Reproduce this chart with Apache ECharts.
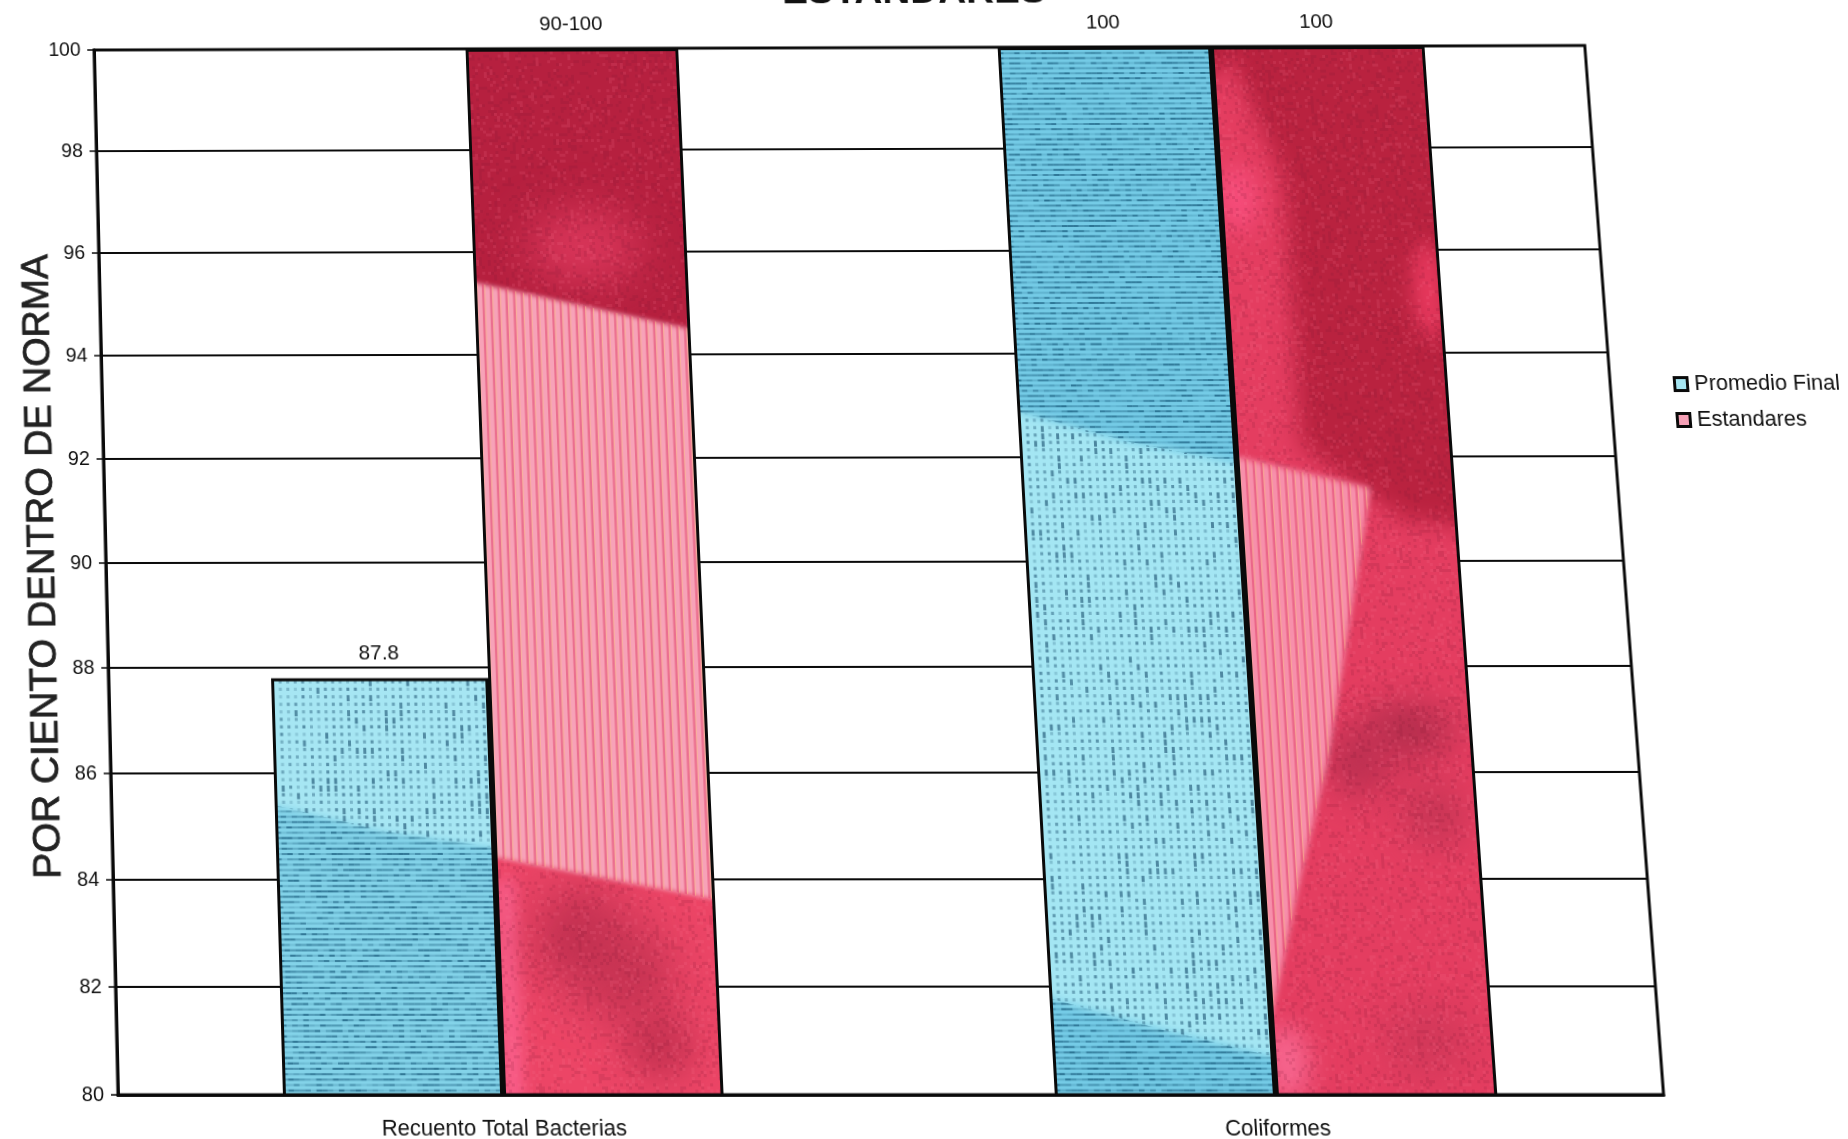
<!DOCTYPE html>
<html>
<head>
<meta charset="utf-8">
<title>Estandares</title>
<script src="https://cdn.jsdelivr.net/npm/echarts@6/dist/echarts.min.js"></script>
<style>
  html, body { margin: 0; padding: 0; width: 1848px; height: 1139px; overflow: hidden; background: #fff; }
  #chart { position: absolute; left: 0; top: 0; width: 1960px; height: 1180px; transform-origin: 0 0; }
</style>
</head>
<body>
<div id="chart"></div>
<script>
const categories = ['Recuento Total Bacterias', 'Coliformes'];
const promedioFinal = [87.8, 100];
const estandares = [100, 100];
const promedioLabels = ['87.8', '100'];
const estandaresLabels = ['90-100', '100'];
const seriesNames = ['Promedio Final', 'Estandares'];
const axisTitle = 'POR CIENTO DENTRO DE NORMA';
const chartTitle = 'ESTANDARES';

const FONT = '"Liberation Sans", Arial, sans-serif';
const GRID = { left: 100, top: 70, width: 1540, height: 1040 };

// The sheet sits slightly askew: map the plot rectangle onto its four page corners.
function sheetMatrix(g, tl, tr, br, bl) {
  const dx1 = tr[0] - br[0], dx2 = bl[0] - br[0], sx = tl[0] - tr[0] + br[0] - bl[0];
  const dy1 = tr[1] - br[1], dy2 = bl[1] - br[1], sy = tl[1] - tr[1] + br[1] - bl[1];
  const den = dx1 * dy2 - dx2 * dy1;
  const p = (sx * dy2 - dx2 * sy) / den, q = (dx1 * sy - sx * dy1) / den;
  const a = tr[0] - tl[0] + p * tr[0], b = bl[0] - tl[0] + q * bl[0], c = tl[0];
  const d = tr[1] - tl[1] + p * tr[1], e = bl[1] - tl[1] + q * bl[1], f = tl[1];
  const W = g.width, H = g.height, L = g.left, T = g.top;
  return [a / W, d / W, 0, p / W,
          b / H, e / H, 0, q / H,
          0, 0, 1, 0,
          c - a * L / W - b * T / H, f - d * L / W - e * T / H, 0, 1 - p * L / W - q * T / H];
}
const box = document.getElementById('chart');
box.style.transform = 'matrix3d(' + sheetMatrix(GRID, [94, 50], [1585, 45.5], [1664, 1095], [118, 1095]).join(',') + ')';

const chart = echarts.init(box, null, { renderer: 'canvas', devicePixelRatio: 1 });
const black = '#0a0a0a';

const labelStyle = { show: true, position: 'top', distance: 14, color: '#111', fontFamily: FONT, fontSize: 21 };

function buildOption(fillA, fillB) {
  return {
    animation: false,
    backgroundColor: '#fff',
    title: {
      text: chartTitle, left: 946, top: -12, textAlign: 'center',
      textStyle: { fontFamily: FONT, fontSize: 40, fontWeight: 'bold', color: '#111' }
    },
    legend: {
      orient: 'vertical', left: 1699, top: 398, itemWidth: 13, itemHeight: 13, itemGap: 14,
      icon: 'rect', textStyle: { fontFamily: FONT, fontSize: 22, color: '#111', padding: [0, 0, 0, 2] },
      data: [
        { name: seriesNames[0], itemStyle: { color: '#a5e6f2', borderColor: black, borderWidth: 3 } },
        { name: seriesNames[1], itemStyle: { color: '#f6a0b6', borderColor: black, borderWidth: 3 } }
      ]
    },
    grid: { left: GRID.left, top: GRID.top, width: GRID.width, height: GRID.height, show: true,
            outerBoundsMode: 'none',
            borderColor: black, borderWidth: 3, backgroundColor: 'transparent' },
    xAxis: {
      type: 'category', data: categories,
      axisLine: { lineStyle: { color: black, width: 3 } },
      axisTick: { length: 5, lineStyle: { color: black, width: 1.5 } },
      axisLabel: { color: '#111', fontFamily: FONT, fontSize: 22, margin: 22 },
      splitLine: { show: false }
    },
    yAxis: {
      type: 'value', min: 80, max: 100, interval: 2,
      name: axisTitle, nameLocation: 'middle', nameRotate: 90, nameGap: 44, nameMoveOverlap: false,
      nameTextStyle: { fontFamily: FONT, fontSize: 38, color: '#222', fontWeight: 'normal',
                       textBorderColor: '#222', textBorderWidth: 0.8 },
      axisLine: { show: true, lineStyle: { color: black, width: 3 } },
      axisTick: { show: true, length: 7, lineStyle: { color: black, width: 1.5 } },
      axisLabel: { color: '#111', fontFamily: FONT, fontSize: 20, margin: 14 },
      splitLine: { show: true, lineStyle: { color: black, width: 2 } }
    },
    series: [
      { name: seriesNames[0], type: 'bar', data: promedioFinal, barGap: 0, barCategoryGap: '42.86%',
        itemStyle: { color: fillA, borderColor: black, borderWidth: 3 },
        label: Object.assign({ formatter: p => promedioLabels[p.dataIndex] }, labelStyle) },
      { name: seriesNames[1], type: 'bar', data: estandares,
        itemStyle: { color: fillB, borderColor: black, borderWidth: 3 },
        label: Object.assign({ formatter: p => estandaresLabels[p.dataIndex] }, labelStyle) }
    ]
  };
}

chart.setOption(buildOption('#85d3e8', '#e63a5e'));

// Ink texture of the printed bars, laid out in (position across bar, axis value) terms.
const tex = document.createElement('canvas');
tex.width = 1960; tex.height = 1180;
const ctx = tex.getContext('2d');
const yPix = v => chart.convertToPixel({ yAxisIndex: 0 }, v);
const xMid = i => chart.convertToPixel({ xAxisIndex: 0 }, i);
const barW = GRID.width / 2 * 2 / 7;
const noise = (i, j) => { const s = Math.sin(i * 12.9898 + j * 78.233) * 43758.5453; return s - Math.floor(s); };

function barFrame(cat, side) {
  const x = xMid(cat) - (side === 0 ? barW : 0);
  return { x, w: barW, pt: (u, v) => [x + u * barW, yPix(v)] };
}
function withBar(f, draw) {
  ctx.save();
  ctx.beginPath();
  ctx.rect(f.x - 2, GRID.top - 2, f.w + 4, GRID.height + 4);
  ctx.clip();
  draw();
  ctx.restore();
}
function tracePoly(f, poly) {
  ctx.beginPath();
  poly.forEach((p, i) => { const q = f.pt(p[0], p[1]); i ? ctx.lineTo(q[0], q[1]) : ctx.moveTo(q[0], q[1]); });
  ctx.closePath();
}
function wash(f, poly, color, blur) {
  ctx.save();
  ctx.filter = 'blur(' + blur + 'px)';
  ctx.fillStyle = color;
  tracePoly(f, poly);
  ctx.fill();
  ctx.restore();
}
function blob(f, u, v, rx, ry, color, blur) {
  ctx.save();
  ctx.filter = 'blur(' + blur + 'px)';
  ctx.fillStyle = color;
  const q = f.pt(u, v);
  ctx.beginPath();
  ctx.ellipse(q[0], q[1], rx, ry, 0, 0, Math.PI * 2);
  ctx.fill();
  ctx.restore();
}
function inPoly(f, poly, draw) {
  ctx.save();
  tracePoly(f, poly);
  ctx.clip();
  draw();
  ctx.restore();
}
function dots(f, poly) {
  inPoly(f, poly, () => {
    for (let j = 0, y = GRID.top; y < GRID.top + GRID.height; y += 7.4, j++) {
      for (let i = 0, x = f.x; x < f.x + f.w; x += 7.6, i++) {
        const n = noise(i + f.x, j);
        const a = 0.2 + 0.5 * n;
        ctx.fillStyle = 'rgba(38,92,122,' + a.toFixed(2) + ')';
        ctx.fillRect(x, y, 3, n > 0.86 ? 6 : 3.2);
      }
    }
  });
}
function hatch(f, poly) {
  inPoly(f, poly, () => {
    for (let j = 0, y = GRID.top; y < GRID.top + GRID.height; y += 5.2, j++) {
      for (let i = 0, x = f.x; x < f.x + f.w; x += 5.6, i++) {
        const n = noise(i + f.x * 0.7, j + 3);
        ctx.fillStyle = 'rgba(18,84,118,' + (0.14 + 0.6 * n).toFixed(2) + ')';
        ctx.fillRect(x, y, 5.6, 2);
      }
    }
  });
}
function stripes(f, poly) {
  inPoly(f, poly, () => {
    for (let i = 0, x = f.x; x < f.x + f.w; x += 7.9, i++) {
      ctx.fillStyle = 'rgba(226,70,110,0.55)';
      ctx.fillRect(x, GRID.top, 2.4, GRID.height);
      ctx.fillStyle = 'rgba(250,190,130,0.5)';
      ctx.fillRect(x + 2.4, GRID.top, 1.2, GRID.height);
    }
  });
}
function grain(f) {
  for (let j = 0, y = GRID.top; y < GRID.top + GRID.height; y += 3, j++) {
    for (let i = 0, x = f.x; x < f.x + f.w; x += 3, i++) {
      const n = noise(i + 31, j + f.x);
      if (n > 0.82) { ctx.fillStyle = 'rgba(120,20,50,0.14)'; ctx.fillRect(x, y, 3, 3); }
      else if (n < 0.12) { ctx.fillStyle = 'rgba(255,120,150,0.14)'; ctx.fillRect(x, y, 3, 3); }
    }
  }
}

// Recuento: blue bar
(function () {
  const f = barFrame(0, 0);
  const light = [[-.1, 88], [1.1, 88], [1.1, 84.55], [.5, 84.9], [-.1, 85.5]];
  const dark = [[-.1, 85.5], [.5, 84.9], [1.1, 84.55], [1.1, 79], [-.1, 79]];
  withBar(f, () => {
    ctx.fillStyle = '#83d3e9'; ctx.fillRect(f.x, GRID.top, f.w, GRID.height);
    wash(f, light, '#a6e6f3', 3);
    dots(f, light);
    hatch(f, dark);
  });
})();

// Recuento: red bar
(function () {
  const f = barFrame(0, 1);
  const band = [[-.1, 95.5], [1.1, 94.4], [1.1, 83.55], [-.1, 84.5]];
  withBar(f, () => {
    ctx.fillStyle = '#ec4566'; ctx.fillRect(f.x, GRID.top, f.w, GRID.height);
    wash(f, [[0, 84], [.09, 84], [.09, 79], [0, 79]], '#f9608c', 8);
    blob(f, .38, 82.9, 46, 48, '#bd2e4e', 26);
    blob(f, .6, 82.2, 42, 44, '#c43251', 24);
    blob(f, .72, 80.9, 34, 30, '#c2304f', 18);
    wash(f, [[-.1, 101], [1.1, 101], [1.1, 94], [-.1, 95]], '#b6203f', 3);
    blob(f, .52, 96.1, 58, 36, '#d9365a', 22);
    grain(f);
    wash(f, band, '#f7a2b8', 2.5);
    stripes(f, band);
  });
})();

// Coliformes: blue bar
(function () {
  const f = barFrame(1, 0);
  const top = [[-.1, 101], [1.1, 101], [1.1, 91.8], [.5, 92.3], [-.1, 93]];
  const mid = [[-.1, 93], [.5, 92.3], [1.1, 91.8], [1.1, 80.6], [.5, 81.2], [-.1, 81.9]];
  const low = [[-.1, 81.9], [.5, 81.2], [1.1, 80.6], [1.1, 79], [-.1, 79]];
  withBar(f, () => {
    ctx.fillStyle = '#74cbe6'; ctx.fillRect(f.x, GRID.top, f.w, GRID.height);
    wash(f, mid, '#a4e6f3', 4);
    hatch(f, top);
    dots(f, mid);
    hatch(f, low);
  });
})();

// Coliformes: red bar
(function () {
  const f = barFrame(1, 1);
  const patch = [[-.1, 92.1], [.61, 91.4], [.33, 86.2], [.17, 84], [0, 81.4], [-.1, 81.4]];
  withBar(f, () => {
    ctx.fillStyle = '#e43d60'; ctx.fillRect(f.x, GRID.top, f.w, GRID.height);
    wash(f, [[.02, 100.5], [1.1, 100.5], [1.1, 90.6], [.75, 90.8], [.3, 92.2], [.3, 97.4]], '#b9223f', 11);
    wash(f, [[-.1, 100.6], [.3, 100.6], [-.1, 99]], '#b9223f', 8);
    blob(f, .08, 97, 20, 34, '#f64d7b', 12);
    blob(f, .94, 95.2, 16, 50, '#e8395e', 10);
    blob(f, .71, 86.8, 46, 26, '#b22d4c', 18);
    blob(f, .47, 86.2, 32, 34, '#bb2f50', 18);
    blob(f, .8, 85.2, 30, 30, '#c53454', 18);
    blob(f, .7, 81, 44, 34, '#d23859', 18);
    blob(f, .06, 80.6, 22, 36, '#f6658e', 12);
    grain(f);
    wash(f, patch, '#f78fab', 3);
    stripes(f, patch);
  });
})();

const fill = { image: tex, repeat: 'no-repeat' };
chart.setOption(buildOption(fill, fill));
</script>
</body>
</html>
